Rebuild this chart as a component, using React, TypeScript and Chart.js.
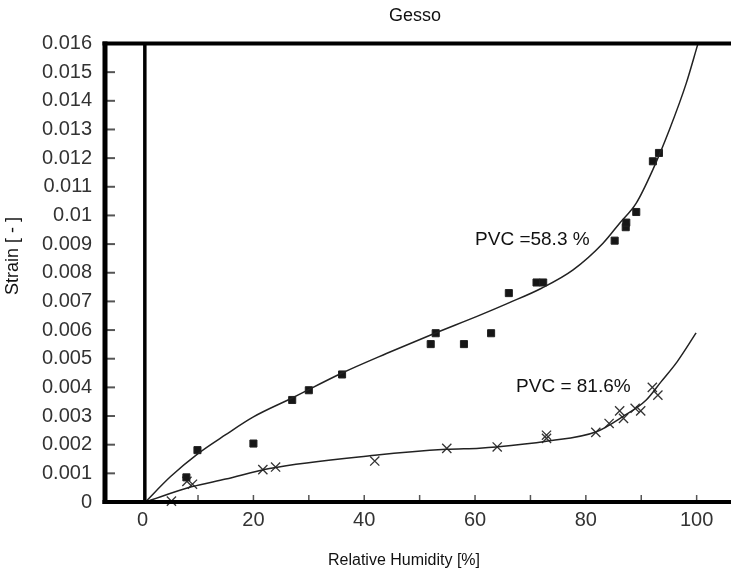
import React, { useEffect, useRef } from "react";
import { Chart, registerables } from "chart.js";

Chart.register(...registerables);

// Measured points, PVC = 58.3 % (filled squares)
const squareX = [7.9, 9.9, 20, 27, 30, 36, 52, 52.9, 58, 62.9, 66.1, 71.1, 72.3, 85.2, 87.2, 87.3, 89.1, 92.1, 93.2];
const squareY = [0.00086, 0.00181, 0.00204, 0.00356, 0.0039, 0.00445, 0.00551, 0.00589, 0.00551, 0.00589, 0.00729, 0.00766, 0.00766, 0.00912, 0.00959, 0.00975, 0.01012, 0.01189, 0.01218];

// Measured points, PVC = 81.6 % (crosses)
const crossX = [5.2, 8, 9, 21.7, 24, 41.9, 54.9, 64, 72.9, 72.9, 81.8, 84.2, 86.1, 86.8, 88.9, 89.9, 92, 93];
const crossY = [0.00003, 0.00072, 0.00062, 0.00113, 0.00122, 0.00143, 0.00187, 0.00192, 0.00222, 0.00233, 0.00243, 0.00274, 0.00318, 0.00292, 0.00327, 0.00318, 0.004, 0.00373];

// Fitted curve, PVC = 58.3 %
const fit58X = [0.5, 5, 10, 15, 20, 27, 36, 44, 52, 61, 66, 72, 77.7, 83.1, 86.1, 89.1, 92.1, 95.1, 98.1, 100.2];
const fit58Y = [0, 0.00088, 0.00169, 0.00235, 0.00297, 0.00363, 0.0045, 0.00518, 0.00583, 0.00653, 0.00694, 0.00746, 0.0081, 0.00903, 0.00973, 0.01043, 0.0116, 0.013, 0.0146, 0.01597];

// Fitted curve, PVC = 81.6 %
const fit82X = [0.5, 8.8, 15, 22.9, 41.9, 54.8, 60.8, 63.8, 72.9, 81.9, 86.6, 90.9, 93.6, 96.5, 99.9];
const fit82Y = [0, 0.00053, 0.0008, 0.00117, 0.00163, 0.00184, 0.00188, 0.00192, 0.00212, 0.00245, 0.00297, 0.00356, 0.0042, 0.0049, 0.0059];

const xTickLabels = [0, 20, 40, 60, 80, 100];
const xTickMarks = [10, 20, 30, 40, 50, 60, 70, 80, 90, 100];
const yTickMarks = [0.001, 0.002, 0.003, 0.004, 0.005, 0.006, 0.007, 0.008, 0.009, 0.01, 0.011, 0.012, 0.013, 0.014, 0.015];
const refLineX = 0.4;

const chartTitle = "Gesso";
const xTitle = "Relative Humidity [%]";
const yTitle = "Strain [ - ]";
const annotationTexts = ["PVC =58.3 %", "PVC = 81.6%"];
const annotationX = [60.0, 67.4];
const annotationY = [0.00914, 0.00402];

const FONT = "'Liberation Sans', Arial, Helvetica, sans-serif";

function toPoints(xs: number[], ys: number[]) {
  return xs.map((x, i) => ({ x, y: ys[i] }));
}

export default function App() {
  const canvasRef = useRef<HTMLCanvasElement>(null);

  useEffect(() => {
    if (!canvasRef.current) return;

    const framePlugin = {
      id: "framePlugin",
      afterDraw(chart: any) {
        const ctx = chart.ctx;
        const { left, right, top, bottom } = chart.chartArea;
        const xs = chart.scales.x;
        const ys = chart.scales.y;
        ctx.save();
        ctx.lineCap = "butt";

        // tick marks (inside)
        ctx.strokeStyle = "#555";
        ctx.lineWidth = 2;
        yTickMarks.forEach((v) => {
          const py = ys.getPixelForValue(v);
          ctx.beginPath();
          ctx.moveTo(left + 2, py);
          ctx.lineTo(left + 10, py);
          ctx.stroke();
        });
        ctx.lineWidth = 1.5;
        xTickMarks.forEach((v) => {
          const px = xs.getPixelForValue(v);
          ctx.beginPath();
          ctx.moveTo(px, bottom - 1);
          ctx.lineTo(px, bottom - 7);
          ctx.stroke();
        });

        // reference vertical line
        ctx.strokeStyle = "#000";
        ctx.lineWidth = 3.5;
        const rx = xs.getPixelForValue(refLineX);
        ctx.beginPath();
        ctx.moveTo(rx, top);
        ctx.lineTo(rx, bottom);
        ctx.stroke();

        // frame
        ctx.lineWidth = 4;
        ctx.beginPath();
        ctx.moveTo(left - 2.5, top);
        ctx.lineTo(right, top);
        ctx.stroke();
        ctx.beginPath();
        ctx.moveTo(left - 2.5, bottom);
        ctx.lineTo(right, bottom);
        ctx.stroke();
        ctx.lineWidth = 5;
        ctx.beginPath();
        ctx.moveTo(left, top - 2);
        ctx.lineTo(left, bottom + 2);
        ctx.stroke();

        // annotations
        ctx.fillStyle = "#111";
        ctx.font = `19px ${FONT}`;
        ctx.textAlign = "left";
        ctx.textBaseline = "middle";
        annotationTexts.forEach((t, i) => {
          ctx.fillText(t, xs.getPixelForValue(annotationX[i]), ys.getPixelForValue(annotationY[i]));
        });

        // chart title
        ctx.font = `18px ${FONT}`;
        ctx.textAlign = "center";
        ctx.fillText(chartTitle, 415, 16);

        // x title
        ctx.font = `16px ${FONT}`;
        ctx.fillText(xTitle, 404, 561);

        // y title
        ctx.save();
        ctx.translate(13, 256);
        ctx.rotate(-Math.PI / 2);
        ctx.font = `18px ${FONT}`;
        ctx.fillText(yTitle, 0, 0);
        ctx.restore();

        ctx.restore();
      },
    };

    const chart = new Chart(canvasRef.current, {
      type: "scatter",
      data: {
        datasets: [
          {
            label: "fit 58.3",
            data: toPoints(fit58X, fit58Y),
            showLine: true,
            pointRadius: 0,
            borderColor: "#222",
            borderWidth: 1.5,
            cubicInterpolationMode: "monotone",
          },
          {
            label: "fit 81.6",
            data: toPoints(fit82X, fit82Y),
            showLine: true,
            pointRadius: 0,
            borderColor: "#222",
            borderWidth: 1.5,
            cubicInterpolationMode: "monotone",
          },
          {
            label: "PVC 58.3",
            data: toPoints(squareX, squareY),
            pointStyle: "rect",
            pointRadius: 5,
            backgroundColor: "#161616",
            borderColor: "#222",
            borderWidth: 1,
            clip: false,
          },
          {
            label: "PVC 81.6",
            data: toPoints(crossX, crossY),
            pointStyle: "crossRot",
            pointRadius: 6.5,
            borderColor: "#333",
            borderWidth: 1.3,
            clip: false,
          },
        ] as any,
      },
      options: {
        animation: false,
        responsive: false,
        maintainAspectRatio: false,
        devicePixelRatio: 1,
        layout: { autoPadding: false, padding: { top: 43.5, left: 0, right: 0, bottom: 0 } },
        plugins: {
          legend: { display: false },
          tooltip: { enabled: false },
          title: { display: false },
        },
        scales: {
          x: {
            type: "linear",
            min: -6.79,
            max: 106.2,
            grid: { display: false, drawTicks: false },
            border: { display: false },
            ticks: {
              font: { family: FONT, size: 20 },
              color: "#333",
              padding: 6,
            },
            afterBuildTicks: (axis: any) => {
              axis.ticks = xTickLabels.map((v) => ({ value: v }));
            },
            afterFit: (s: any) => {
              s.height = 73;
              s.paddingLeft = 0;
              s.paddingRight = 0;
            },
          },
          y: {
            type: "linear",
            min: 0,
            max: 0.016,
            grid: { display: false, drawTicks: false },
            border: { display: false },
            ticks: {
              stepSize: 0.001,
              font: { family: FONT, size: 20 },
              color: "#333",
              padding: 13,
              callback: (v: any) => String(Math.round(Number(v) * 1000) / 1000),
            },
            afterFit: (s: any) => {
              s.width = 105;
              s.paddingTop = 0;
              s.paddingBottom = 0;
            },
          },
        },
      } as any,
      plugins: [framePlugin],
    });

    return () => chart.destroy();
  }, []);

  return (
    <div style={{ position: "fixed", left: 0, top: 0, width: 731, height: 575, background: "#fff" }}>
      <canvas ref={canvasRef} width={731} height={575} style={{ display: "block", width: 731, height: 575 }} />
    </div>
  );
}
